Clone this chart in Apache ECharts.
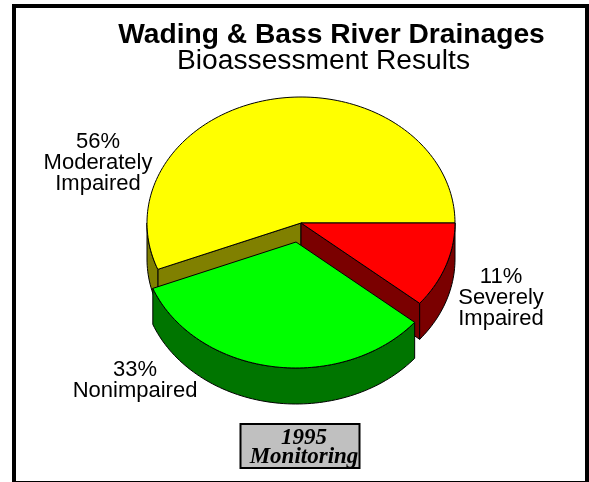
<!DOCTYPE html>
<html><head><meta charset="utf-8">
<style>html,body{margin:0;padding:0;background:#fff}#c{width:589px;height:482px}</style>
<script src="https://cdn.jsdelivr.net/npm/echarts@6/dist/echarts.min.js"></script>
</head><body><div id="c"></div>
<script>
const categories = ['Severely Impaired', 'Nonimpaired', 'Moderately Impaired'];
const values = [11, 33, 56];
const topColors = ['#ff0000', '#00ff00', '#ffff00'];
const sideColors = ['#7a0000', '#007500', '#808000'];
const sliceOffsets = [[0, 0], [-5, 19], [0, 0]];
const percentLabels = ['11%', '33%', '56%'];

const CX = 301, CY = 223, RX = 154, RY = 126, DEPTH = 36;
const total = values.reduce((a, b) => a + b, 0);
const DEG = Math.PI / 180;

// angle spans, clockwise on screen from 3 o'clock
let acc = 0;
const spans = values.map(v => { const s = acc; acc += v / total * 360; return [s, acc]; });

function pt(off, a, dz) {
  return [CX + off[0] + RX * Math.cos(a * DEG), CY + off[1] + RY * Math.sin(a * DEG) + (dz || 0)];
}
function arc(off, a0, a1, dz) {
  const n = Math.max(2, Math.ceil(Math.abs(a1 - a0) / 1.5)), out = [];
  for (let i = 0; i <= n; i++) out.push(pt(off, a0 + (a1 - a0) * i / n, dz));
  return out;
}
function poly(points, fill) {
  return { type: 'polygon', shape: { points }, style: { fill, stroke: '#000', lineWidth: 1, lineJoin: 'round' } };
}
function renderSlice(params, api) {
  const i = api.value(0);
  const [a0, a1] = spans[i], off = sliceOffsets[i];
  const c = [CX + off[0], CY + off[1]];
  const children = [];
  const side = sideColors[i];
  // cut walls that face the viewer
  [[a0, -1], [a1, 1]].forEach(([a, dir]) => {
    if (Math.sin(a * DEG) > 1e-6 && Math.cos(a * DEG) * dir > 0) {
      const p = pt(off, a);
      children.push(poly([c, p, [p[0], p[1] + DEPTH], [c[0], c[1] + DEPTH]], side));
    }
  });
  // front part of the rim
  const r0 = Math.max(a0, 0), r1 = Math.min(a1, 180);
  if (r1 > r0) children.push(poly(arc(off, r0, r1).concat(arc(off, r1, r0, DEPTH)), side));
  // top face
  children.push(poly([c].concat(arc(off, a0, a1)), topColors[i]));
  return { type: 'group', children };
}
// back slices first, the exploded green slice last
const drawOrder = [2, 0, 1];

const sans = '"Liberation Sans", Arial, sans-serif';
function label(x, y, pct, lines) {
  return { type: 'text', x, y, z: 20, style: {
    fontFamily: sans, fill: '#000', text: [pct].concat(lines).join('\n'),
    fontSize: 22, lineHeight: 21, align: 'center', verticalAlign: 'top' } };
}
function bar(x, y, width, height) {
  return { type: 'rect', z: 1, shape: { x, y, width, height }, style: { fill: '#000' } };
}

const chart = echarts.init(document.getElementById('c'), null, { renderer: 'canvas' });
chart.setOption({
  animation: false,
  title: [
    { text: 'Wading & Bass River Drainages', left: 326.5, top: 16, textAlign: 'center',
      textStyle: { fontFamily: sans, fontWeight: 'bold', fontSize: 28.2, color: '#000' } },
    { text: 'Bioassessment Results', left: 318.5, top: 42.5, textAlign: 'center',
      textStyle: { fontFamily: sans, fontWeight: 'normal', fontSize: 28.2, color: '#000' } }
  ],
  xAxis: { show: false }, yAxis: { show: false },
  series: [{
    type: 'custom', coordinateSystem: 'none', renderItem: renderSlice, z: 5,
    data: drawOrder.map(i => ({ name: categories[i], value: [i, values[i]] })), silent: true
  }],
  graphic: [
    bar(12, 4, 577, 4), bar(12, 4, 4, 478), bar(585, 4, 4, 478), bar(12, 481, 577, 1),
    label(98, 131, percentLabels[2], ['Moderately', 'Impaired']),
    label(501, 266.5, percentLabels[0], ['Severely', 'Impaired']),
    label(135, 359, percentLabels[1], ['Nonimpaired']),
    { type: 'rect', z: 20, shape: { x: 240.5, y: 424, width: 119, height: 44 },
      style: { fill: '#c0c0c0', stroke: '#000', lineWidth: 2 } },
    { type: 'text', x: 304, y: 428, z: 21, style: {
      text: '1995\nMonitoring', fontFamily: '"Liberation Serif", "Times New Roman", serif',
      fontStyle: 'italic', fontWeight: 'bold', fontSize: 23, lineHeight: 19.5, align: 'center', verticalAlign: 'top', fill: '#000' } }
  ]
});
</script></body></html>
